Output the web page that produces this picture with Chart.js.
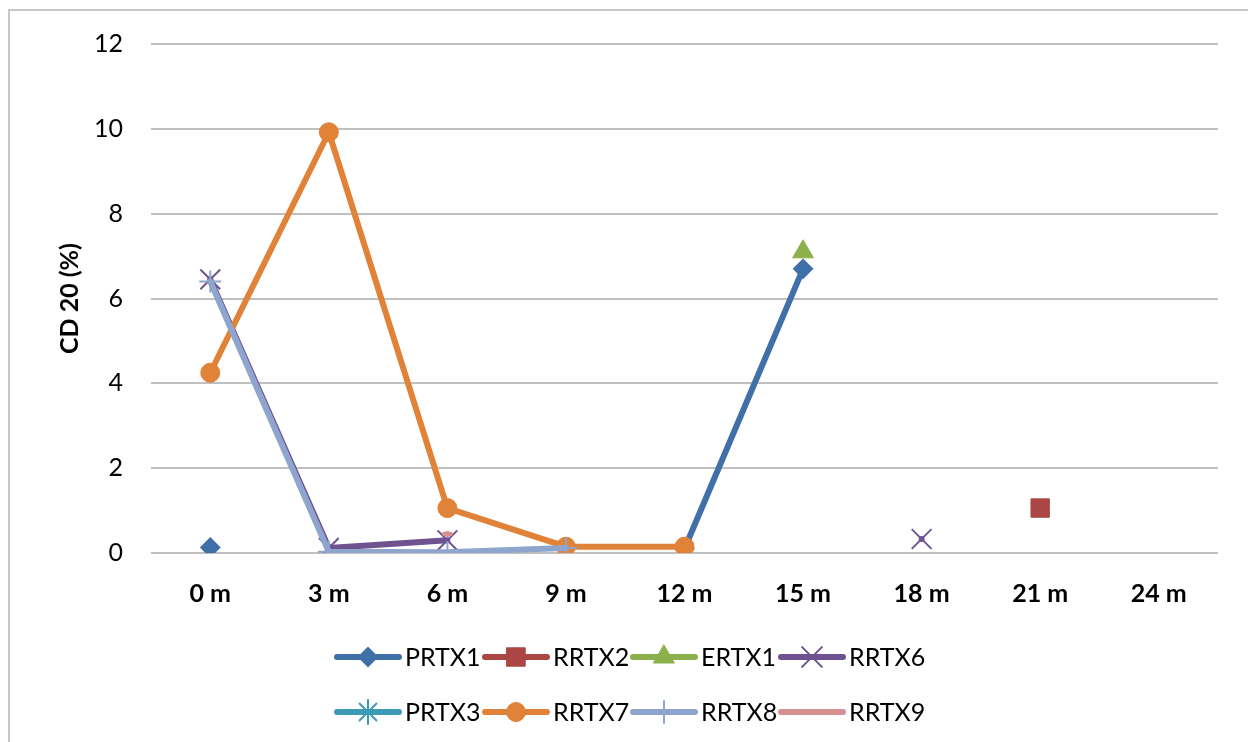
<!DOCTYPE html>
<html>
<head>
<meta charset="utf-8">
<script src="https://cdn.jsdelivr.net/npm/chart.js@4.4.1/dist/chart.umd.min.js"></script>
<style>
  html, body { margin: 0; padding: 0; background: #ffffff; overflow: hidden; }
  #wrap { width: 1248px; height: 742px; position: relative; }
</style>
</head>
<body>
<div id="wrap"><canvas id="c" width="1248" height="742"></canvas></div>
<script>
// Time points (months)
const categories = ['0 m', '3 m', '6 m', '9 m', '12 m', '15 m', '18 m', '21 m', '24 m'];

// CD 20 (%) per patient; null = no measurement
const PRTX1 = [0.13, null, null, null, 0.1, 6.7, null, null, null];
const RRTX2 = [null, null, null, null, null, null, null, 1.06, null];
const ERTX1 = [null, null, null, null, null, 7.1, null, null, null];
const RRTX6 = [6.45, 0.12, 0.3, null, null, null, 0.33, null, null];
const PRTX3 = [null, null, null, null, null, null, null, null, null];
const RRTX7 = [4.25, 9.92, 1.06, 0.15, 0.15, null, null, null, null];
const RRTX8 = [6.4, 0.03, 0.02, 0.12, null, null, null, null, null];
const RRTX9 = [null, null, 0.45, null, null, null, null, null, null];

const yTicks = [0, 2, 4, 6, 8, 10, 12];

const FONT = 'Lato, "Liberation Sans", sans-serif';

// Per-series appearance
const series = [
  { label: 'PRTX1', data: PRTX1, color: '#4070A8', style: 'rectRot', radius: 9,  bw: 2 },
  { label: 'RRTX2', data: RRTX2, color: '#AA4643', style: 'rect',    radius: 13, bw: 1 },
  { label: 'ERTX1', data: ERTX1, color: '#8CB04C', style: 'triangle',radius: 12, bw: 1 },
  { label: 'RRTX6', data: RRTX6, color: '#6F5391', style: 'crossRot',radius: 14, bw: 2 },
  { label: 'PRTX3', data: PRTX3, color: '#3D9BB8', style: 'star',    radius: 12, bw: 2 },
  { label: 'RRTX7', data: RRTX7, color: '#E08238', style: 'circle',  radius: 9.5,bw: 1 },
  { label: 'RRTX8', data: RRTX8, color: '#8EA6CE', style: 'cross',   radius: 11, bw: 2 },
  { label: 'RRTX9', data: RRTX9, color: '#D69090', style: 'line',    radius: 5,  bw: 4, legendMarker: false }
];

const datasets = series.map((s, i) => ({
  label: s.label,
  data: s.data,
  borderColor: s.color,
  backgroundColor: s.color,
  borderWidth: 6,
  borderCapStyle: 'round',
  borderJoinStyle: 'round',
  pointStyle: s.style,
  pointRadius: s.radius,
  pointBorderWidth: s.bw,
  pointBackgroundColor: s.color,
  pointBorderColor: s.color,
  spanGaps: false,
  tension: 0,
  order: series.length - 1 - i
}));

// Outer frame of the chart
const framePlugin = {
  id: 'frame',
  beforeDraw(chart) {
    const ctx = chart.ctx;
    ctx.save();
    ctx.fillStyle = '#ffffff';
    ctx.fillRect(0, 0, chart.width, chart.height);
    ctx.strokeStyle = '#c8c8c8';
    ctx.lineWidth = 2;
    ctx.strokeRect(9, 10, chart.width + 40, chart.height + 40);
    ctx.restore();
  }
};

// Two-row legend below the plot: line sample with marker, then the name
const legendPlugin = {
  id: 'twoRowLegend',
  afterDraw(chart) {
    const ctx = chart.ctx;
    const startX = 337, colW = 148, rowY = [657, 712], lineLen = 62;
    ctx.save();
    series.forEach((s, i) => {
      const r = Math.floor(i / 4), c = i % 4;
      const x0 = startX + c * colW, y = rowY[r];
      ctx.strokeStyle = s.color;
      ctx.lineWidth = 6;
      ctx.lineCap = 'round';
      ctx.beginPath();
      ctx.moveTo(x0, y);
      ctx.lineTo(x0 + lineLen, y);
      ctx.stroke();
      if (s.legendMarker !== false) {
        ctx.fillStyle = s.color;
        ctx.strokeStyle = s.color;
        ctx.lineWidth = s.bw;
        Chart.helpers.drawPoint(ctx, { pointStyle: s.style, radius: s.radius, borderWidth: s.bw, rotation: 0 }, x0 + lineLen / 2, y);
      }
      ctx.fillStyle = '#000000';
      ctx.font = '25px ' + FONT;
      ctx.textBaseline = 'middle';
      ctx.textAlign = 'left';
      ctx.fillText(s.label, x0 + lineLen + 6, y + 1);
    });
    ctx.restore();
  }
};

new Chart(document.getElementById('c'), {
  type: 'line',
  data: { labels: categories, datasets },
  plugins: [framePlugin, legendPlugin],
  options: {
    responsive: false,
    animation: false,
    events: [],
    layout: { padding: { top: 44, right: 30, left: 0, bottom: 0 } },
    plugins: {
      legend: { display: false },
      tooltip: { enabled: false }
    },
    scales: {
      x: {
        type: 'category',
        offset: true,
        grid: { display: false, drawTicks: false },
        border: { display: false },
        ticks: { color: '#000', font: { family: FONT, size: 25, weight: 'bold' }, padding: 26, maxRotation: 0 },
        afterFit(scale) { scale.height = 742 - 553; }
      },
      y: {
        min: 0,
        max: 12,
        afterBuildTicks(scale) { scale.ticks = yTicks.map(v => ({ value: v })); },
        grid: { color: '#c0c0c0', lineWidth: 2, drawTicks: false },
        border: { display: false },
        ticks: { color: '#000', font: { family: FONT, size: 25 }, padding: 28 },
        title: {
          display: true,
          text: 'CD 20 (%)',
          color: '#000',
          font: { family: FONT, size: 25, weight: 'bold' },
          padding: { top: 55, bottom: 0 }
        },
        afterFit(scale) { scale.width = 151; }
      }
    }
  }
});
</script>
</body>
</html>
